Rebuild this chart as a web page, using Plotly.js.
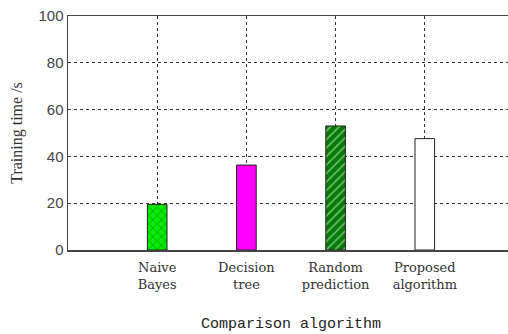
<!DOCTYPE html>
<html><head><meta charset="utf-8">
<script src="https://cdn.plot.ly/plotly-3.0.1.min.js"></script>
<style>html,body{margin:0;padding:0;overflow:hidden;background:#fff;}#chart{width:520px;height:334px;}</style>
</head><body><div id="chart"></div>
<script>
const categories = ["Naive Bayes", "Decision tree", "Random prediction", "Proposed algorithm"];
const tickLabels = ["Naive<br>Bayes", "Decision<br>tree", "Random<br>prediction", "Proposed<br>algorithm"];
const positions = [1, 2, 3, 4];
const trainingTime = [19.5, 36.3, 53, 47.6];
const barColors = ["#00ee00", "#ff00ff", "#007a00", "#ffffff"];
const patternShapes = ["x", "", "/", ""];

const trace = {
  type: "bar",
  x: positions,
  y: trainingTime,
  width: 0.22,
  marker: {
    color: barColors,
    line: {color: "#222", width: 1},
    pattern: {shape: patternShapes, fillmode: "overlay", fgcolor: "#0b3b0b", size: 6, solidity: 0.25}
  },
  hoverinfo: "none"
};

const layout = {
  width: 520, height: 334,
  margin: {l: 68, r: 6, t: 16, b: 84},
  paper_bgcolor: "#fff", plot_bgcolor: "#fff",
  showlegend: false,
  xaxis: {
    range: [0, 5],
    tickvals: positions,
    ticktext: tickLabels,
    showgrid: true, gridcolor: "#333", griddash: "dot", gridwidth: 1.2,
    showline: true, linecolor: "#444", linewidth: 1.5, mirror: true,
    ticks: "", zeroline: false, ticklabelstandoff: 5,
    tickfont: {family: "DejaVu Serif, serif", size: 13, color: "#333"},
    title: {text: "Comparison algorithm", font: {family: "Liberation Mono, monospace", size: 15, color: "#222"}, standoff: 26}
  },
  yaxis: {
    range: [0, 100],
    tickvals: [0, 20, 40, 60, 80, 100],
    showgrid: true, gridcolor: "#333", griddash: "dot", gridwidth: 1.2,
    showline: true, linecolor: "#444", linewidth: 1.5, mirror: true,
    ticks: "", zeroline: false,
    tickfont: {family: "Liberation Sans, sans-serif", size: 15, color: "#444"},
    title: {text: "Training time /s", font: {family: "Liberation Serif, serif", size: 16, color: "#333"}, standoff: 12}
  }
};

Plotly.newPlot("chart", [trace], layout, {staticPlot: true, displayModeBar: false});
</script>
</body></html>
